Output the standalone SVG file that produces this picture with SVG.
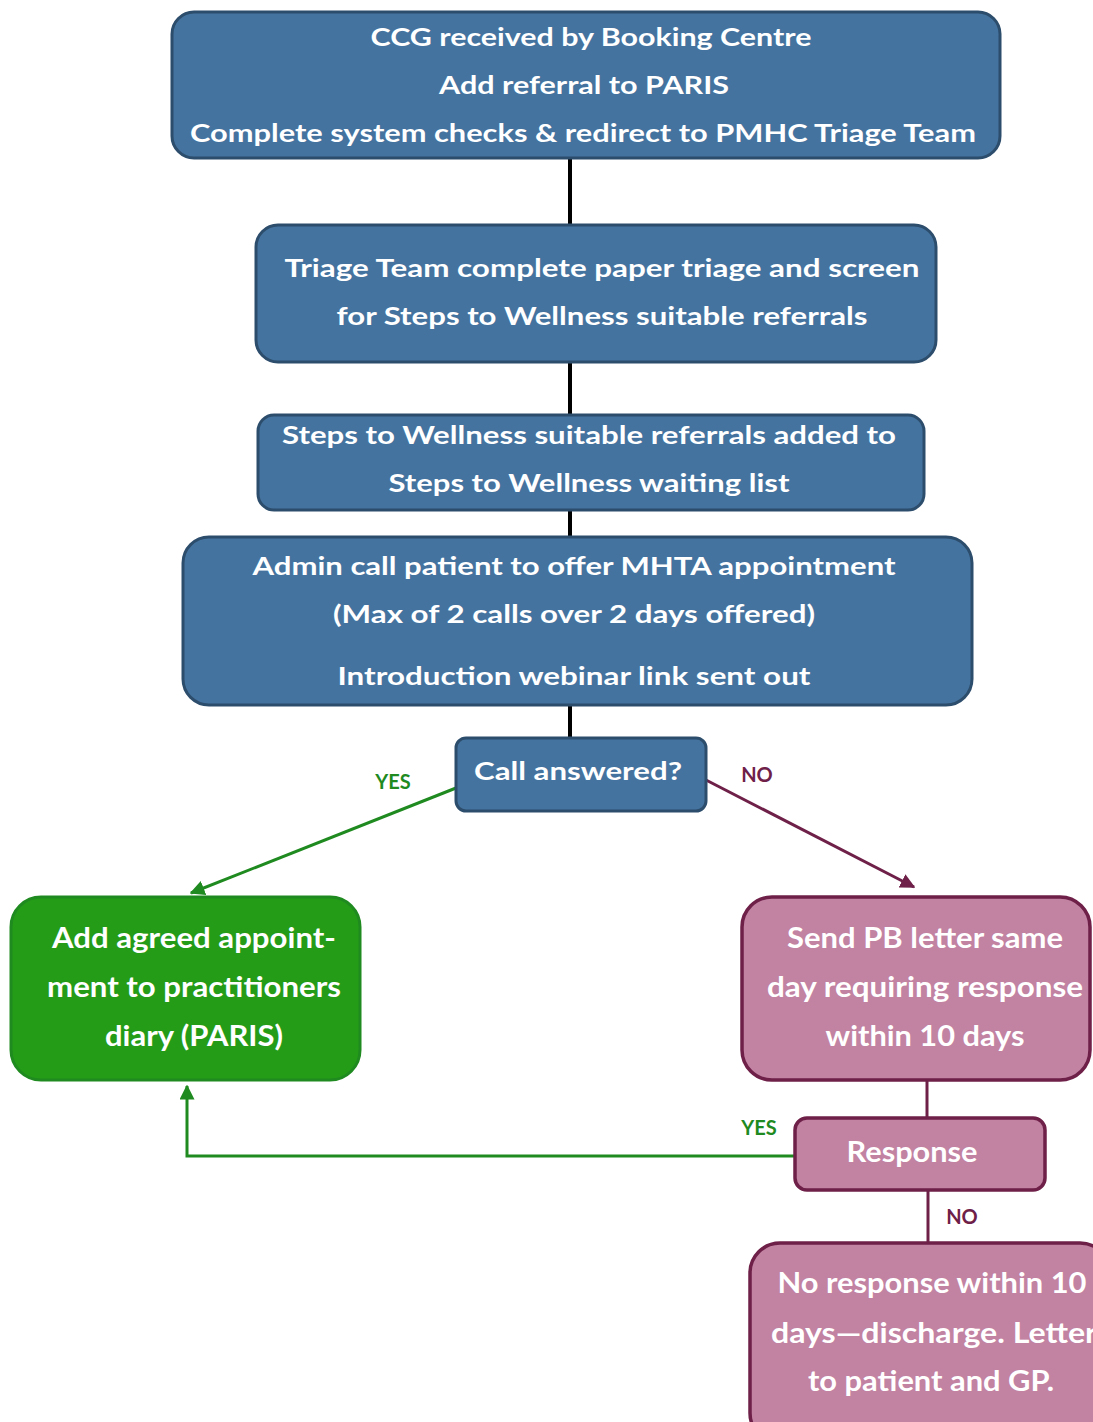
<svg xmlns="http://www.w3.org/2000/svg" width="1093" height="1422" viewBox="0 0 1093 1422">
<defs>
<marker id="ag" viewBox="0 0 10 10" refX="9" refY="5" markerWidth="5" markerHeight="5" orient="auto-start-reverse" markerUnits="strokeWidth"><path d="M0,0 L10,5 L0,10 z" fill="#1f8a1f"/></marker>
<marker id="ap" viewBox="0 0 10 10" refX="9" refY="5" markerWidth="5" markerHeight="5" orient="auto" markerUnits="strokeWidth"><path d="M0,0 L10,5 L0,10 z" fill="#6e2048"/></marker>
</defs>
<style>
.blue{fill:#44739f;stroke:#2d4d6c;stroke-width:3}
.green{fill:#259c18;stroke:#1f8a1f;stroke-width:3}
.pink{fill:#c282a2;stroke:#6e2048;stroke-width:3.5}
.t{font-family:Lato,"Open Sans",sans-serif;font-weight:bold;fill:#fff;text-anchor:middle;font-size:25px}
.t2{font-family:Lato,"Open Sans",sans-serif;font-weight:bold;fill:#fff;text-anchor:middle;font-size:28px}
.lb{font-family:Lato,"Open Sans",sans-serif;font-weight:bold;font-size:20px}
.k{stroke:#000;stroke-width:4;fill:none}
.gl{stroke:#1f8a1f;stroke-width:3;fill:none}
.pl{stroke:#6e2048;stroke-width:3;fill:none}
</style>
<rect width="1093" height="1422" fill="#fff"/>
<g id="connectors">
<line class="k" x1="570" y1="158" x2="570" y2="225"/>
<line class="k" x1="570" y1="362" x2="570" y2="415"/>
<line class="k" x1="570" y1="510" x2="570" y2="537"/>
<line class="k" x1="570" y1="705" x2="570" y2="738"/>
<line class="gl" x1="456" y1="788" x2="191" y2="893" marker-end="url(#ag)"/>
<line class="pl" x1="706" y1="780" x2="914" y2="887" marker-end="url(#ap)"/>
<line class="pl" x1="927" y1="1080" x2="927" y2="1118"/>
<line class="pl" x1="928" y1="1190" x2="928" y2="1243"/>
<polyline class="gl" points="795,1156 187,1156 187,1086" marker-end="url(#ag)"/>
<text class="lb" x="393" y="789" text-anchor="middle" fill="#1f8a1f">YES</text>
<text class="lb" x="757" y="782" text-anchor="middle" fill="#6e2048">NO</text>
<text class="lb" x="759" y="1135" text-anchor="middle" fill="#1f8a1f">YES</text>
<text class="lb" x="962" y="1224" text-anchor="middle" fill="#6e2048">NO</text>
</g>
<g id="n1">
<rect class="blue" x="172" y="12" width="828" height="146" rx="22"/>
<text class="t" x="591" y="46" textLength="441" lengthAdjust="spacingAndGlyphs">CCG received by Booking Centre</text>
<text class="t" x="584" y="94" textLength="290" lengthAdjust="spacingAndGlyphs">Add referral to PARIS</text>
<text class="t" x="583" y="142" textLength="786" lengthAdjust="spacingAndGlyphs">Complete system checks &amp; redirect to PMHC Triage Team</text>
</g>
<g id="n2">
<rect class="blue" x="256" y="225" width="680" height="137" rx="22"/>
<text class="t" x="602" y="277" textLength="635" lengthAdjust="spacingAndGlyphs">Triage Team complete paper triage and screen</text>
<text class="t" x="602" y="325" textLength="531" lengthAdjust="spacingAndGlyphs">for Steps to Wellness suitable referrals</text>
</g>
<g id="n3">
<rect class="blue" x="258" y="415" width="666" height="95" rx="16"/>
<text class="t" x="589" y="444" textLength="614" lengthAdjust="spacingAndGlyphs">Steps to Wellness suitable referrals added to</text>
<text class="t" x="589" y="492" textLength="401" lengthAdjust="spacingAndGlyphs">Steps to Wellness waiting list</text>
</g>
<g id="n4">
<rect class="blue" x="183" y="537" width="789" height="168" rx="26"/>
<text class="t" x="574" y="575" textLength="643" lengthAdjust="spacingAndGlyphs">Admin call patient to offer MHTA appointment</text>
<text class="t" x="574" y="623" textLength="482" lengthAdjust="spacingAndGlyphs">(Max of 2 calls over 2 days offered)</text>
<text class="t" x="574" y="685" textLength="473" lengthAdjust="spacingAndGlyphs">Introduction webinar link sent out</text>
</g>
<g id="n5">
<rect class="blue" x="456" y="738" width="250" height="73" rx="10"/>
<text class="t" x="578" y="780" textLength="208" lengthAdjust="spacingAndGlyphs">Call answered?</text>
</g>
<g id="n6">
<rect class="green" x="11" y="897" width="349" height="183" rx="30"/>
<text class="t2" x="194" y="948" textLength="284" lengthAdjust="spacingAndGlyphs">Add agreed appoint-</text>
<text class="t2" x="194" y="997" textLength="294" lengthAdjust="spacingAndGlyphs">ment to practitioners</text>
<text class="t2" x="194" y="1046" textLength="178" lengthAdjust="spacingAndGlyphs">diary (PARIS)</text>
</g>
<g id="n7">
<rect class="pink" x="742" y="897" width="348" height="183" rx="30"/>
<text class="t2" x="925" y="948" textLength="276" lengthAdjust="spacingAndGlyphs">Send PB letter same</text>
<text class="t2" x="925" y="997" textLength="316" lengthAdjust="spacingAndGlyphs">day requiring response</text>
<text class="t2" x="925" y="1046" textLength="199" lengthAdjust="spacingAndGlyphs">within 10 days</text>
</g>
<g id="n8">
<rect class="pink" x="795" y="1118" width="250" height="72" rx="12"/>
<text class="t2" x="912" y="1162" textLength="131" lengthAdjust="spacingAndGlyphs">Response</text>
</g>
<g id="n9">
<rect class="pink" x="750" y="1243" width="360" height="200" rx="30"/>
<text class="t2" x="932" y="1293" textLength="309" lengthAdjust="spacingAndGlyphs">No response within 10</text>
<text class="t2" x="934" y="1343" textLength="326" lengthAdjust="spacingAndGlyphs">days—discharge. Letter</text>
<text class="t2" x="931" y="1391" textLength="246" lengthAdjust="spacingAndGlyphs">to patient and GP.</text>
</g>
</svg>
